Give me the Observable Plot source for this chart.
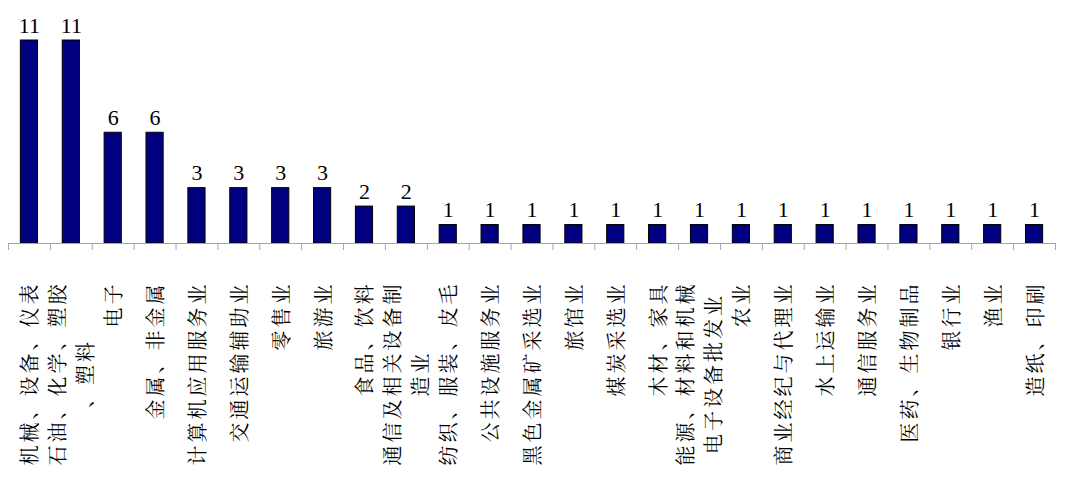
<!DOCTYPE html>
<html>
<head>
<meta charset="utf-8">
<script src="https://cdn.jsdelivr.net/npm/d3@7"></script>
<script src="https://cdn.jsdelivr.net/npm/@observablehq/plot@0.6"></script>
<style>
  html, body { margin: 0; padding: 0; background: #fff; }
  text[aria-label="category-label"] { letter-spacing: 3px; }
</style>
</head>
<body>
<div id="chart"></div>
<script>
// Categories (industries), values, and displayed tick labels (with line breaks)
const categories = [
  "机械、设备、仪表", "石油、化学、塑胶、塑料", "电子", "金属、非金属",
  "计算机应用服务业", "交通运输辅助业", "零售业", "旅游业",
  "食品、饮料", "通信及相关设备制造业", "纺织、服装、皮毛", "公共设施服务业",
  "黑色金属矿采选业", "旅馆业", "煤炭采选业", "木材、家具",
  "能源、材料和机械电子设备批发业", "农业", "商业经纪与代理业", "水上运输业",
  "通信服务业", "医药、生物制品", "银行业", "渔业", "造纸、印刷"
];
const values = [11, 11, 6, 6, 3, 3, 3, 3, 2, 2, 1, 1, 1, 1, 1, 1, 1, 1, 1, 1, 1, 1, 1, 1, 1];
const tickLabels = [
  "机械、设备、仪表", "石油、化学、塑胶\n、塑料", "电子", "金属、非金属",
  "计算机应用服务业", "交通运输辅助业", "零售业", "旅游业",
  "食品、饮料", "通信及相关设备制\n造业", "纺织、服装、皮毛", "公共设施服务业",
  "黑色金属矿采选业", "旅馆业", "煤炭采选业", "木材、家具",
  "能源、材料和机械\n电子设备批发业", "农业", "商业经纪与代理业", "水上运输业",
  "通信服务业", "医药、生物制品", "银行业", "渔业", "造纸、印刷"
];

const data = categories.map((c, i) => ({
  category: c,
  value: values[i],
  label: tickLabels[i],
  maxLen: Math.max(...tickLabels[i].split("\n").map(s => [...s].length))
}));

const W = 1065, H = 486;
const mL = 8, mR = 10, mT = 40, mB = 243;
const step = (W - mL - mR) / categories.length;
const fs = 20, ls = 3, pitch = fs + ls;
const cjkFont = "'Noto Serif CJK SC', 'Noto Sans CJK SC', sans-serif";
const axisColor = "#a6a6a6";

const lengths = Array.from(new Set(data.map(d => d.maxLen)));
const labelMarks = lengths.map(L => Plot.text(data.filter(d => d.maxLen === L), {
  x: "category",
  frameAnchor: "bottom",
  text: "label",
  rotate: -90,
  textAnchor: "middle",
  lineAnchor: "middle",
  lineHeight: 1.4,
  dy: 38 + L * pitch / 2,
  dx: -1,
  fontSize: fs,
  fontFamily: cjkFont,
  fill: "#000",
  ariaLabel: () => "category-label"
}));

const chart = Plot.plot({
  width: W,
  height: H,
  marginLeft: mL,
  marginRight: mR,
  marginTop: mT,
  marginBottom: mB,
  style: { background: "#fff" },
  x: { domain: categories, paddingInner: 0.59, paddingOuter: 0.295, round: false, axis: null },
  y: { domain: [0, 11], axis: null },
  marks: [
    Plot.barY(data, { x: "category", y: "value", fill: "#000080", stroke: "#000", strokeWidth: 1 }),
    Plot.ruleY([0], { stroke: axisColor, strokeWidth: 1 }),
    Plot.ruleX(data, { x: "category", y1: 0, y2: 0, insetBottom: -7, dx: -step / 2, stroke: axisColor }),
    Plot.ruleX(data.slice(-1), { x: "category", y1: 0, y2: 0, insetBottom: -7, dx: step / 2, stroke: axisColor }),
    Plot.text(data, {
      x: "category", y: "value", text: d => String(d.value),
      lineAnchor: "bottom", dy: -8, fontSize: 22,
      fontFamily: "'Liberation Serif', 'DejaVu Serif', serif", fill: "#000"
    }),
    ...labelMarks
  ]
});

document.getElementById("chart").appendChild(chart);
</script>
</body>
</html>
